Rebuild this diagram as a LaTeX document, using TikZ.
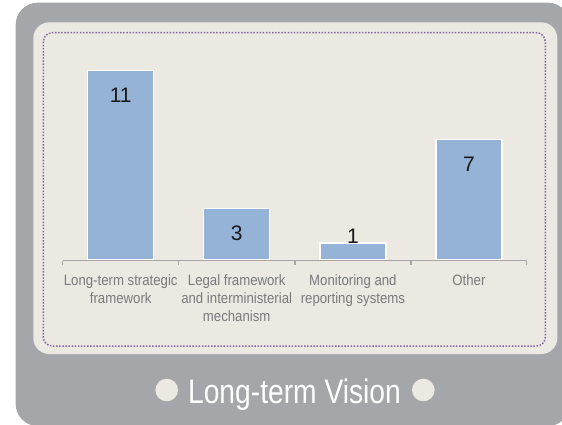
\documentclass[tikz,border=0pt]{standalone}
\usepackage{fontspec}
\setmainfont{Liberation Sans}
\newfontfamily\labelfont[FakeStretch=0.88]{Liberation Sans}
\newfontfamily\titlefont[FakeStretch=0.83]{Liberation Sans}
\definecolor{outergray}{HTML}{A5A6A9}
\definecolor{panelbeige}{HTML}{ECE9E3}
\definecolor{dotpurple}{HTML}{8064A2}
\definecolor{barblue}{HTML}{95B3D7}
\definecolor{axisgray}{HTML}{A6A6A6}
\definecolor{labelgray}{HTML}{7A7A7A}
\tikzset{
  barbox/.style={draw=white, line width=1.5pt, fill=barblue, minimum width=66pt,
    inner sep=0pt, outer sep=0pt, anchor=south},
  numlabel/.style={font=\fontsize{21}{24}\selectfont, text=black!90, inner sep=0pt},
  catlabel/.style={font=\labelfont\fontsize{15}{17.7}\selectfont, text=labelgray, align=center, anchor=base, inner sep=0pt},
  axisline/.style={draw=axisgray, line width=1.5pt},
  dot/.style={circle, fill=panelbeige, minimum size=22.6pt, inner sep=0pt}
}
\begin{document}
\begin{tikzpicture}[x=1pt, y=-1pt]
\useasboundingbox (0,0) rectangle (562,424);
% outer gray frame
\fill[outergray, rounded corners=22pt] (15.7,2.7) rectangle (570,426);
% beige panel
\fill[panelbeige, rounded corners=16pt] (33.3,22.3) rectangle (557.3,354);
% dotted border
\draw[dotpurple, line width=1.5pt, dash pattern=on 1.5pt off 1.6pt, rounded corners=9pt] (43.3,32.7) rectangle (545.3,346);

% bars
\node[barbox, minimum height=189.3pt] (b1) at (120.7,260) {};
\node[barbox, minimum height=51.6pt]  (b2) at (236.7,260) {};
\node[barbox, minimum height=17.2pt]  (b3) at (352.9,260) {};
\node[barbox, minimum height=120.5pt] (b4) at (468.9,260) {};

% value labels
\node[numlabel] (v1) at ([yshift=-25pt]b1.north) {11};
\node[numlabel] (v2) at ([yshift=-25pt]b2.north) {3};
\node[numlabel] (v3) at ([yshift=7pt]b3.north) {1};
\node[numlabel] (v4) at ([yshift=-25pt]b4.north) {7};

% axis
\coordinate (a0) at (62.7,260.5);
\coordinate (a1) at (178.3,260.5);
\coordinate (a2) at (295,260.5);
\coordinate (a3) at (411,260.5);
\coordinate (a4) at (526.7,260.5);
\draw[axisline] (a0) -- (a4);
\foreach \t in {a0,a1,a2,a3,a4} \draw[axisline] (\t) -- ++(0,4.5);

% category labels (anchored at the baseline of their last line)
\node[catlabel] (c1) at (120.7,303.3) {Long-term strategic\\framework};
\node[catlabel] (c2) at (236.7,321) {Legal framework\\and interministerial\\mechanism};
\node[catlabel] (c3) at (352.9,303.3) {Monitoring and\\reporting systems};
\node[catlabel] (c4) at (468.9,285) {Other};

% title
\node[font=\titlefont\fontsize{34}{40}\selectfont, text=white, anchor=base, inner sep=0pt] (title) at (294.5,403.3) {Long-term Vision};
\node[dot] (d1) at (166.7,390) {};
\node[dot] (d2) at (423.3,390) {};
\end{tikzpicture}
\end{document}
